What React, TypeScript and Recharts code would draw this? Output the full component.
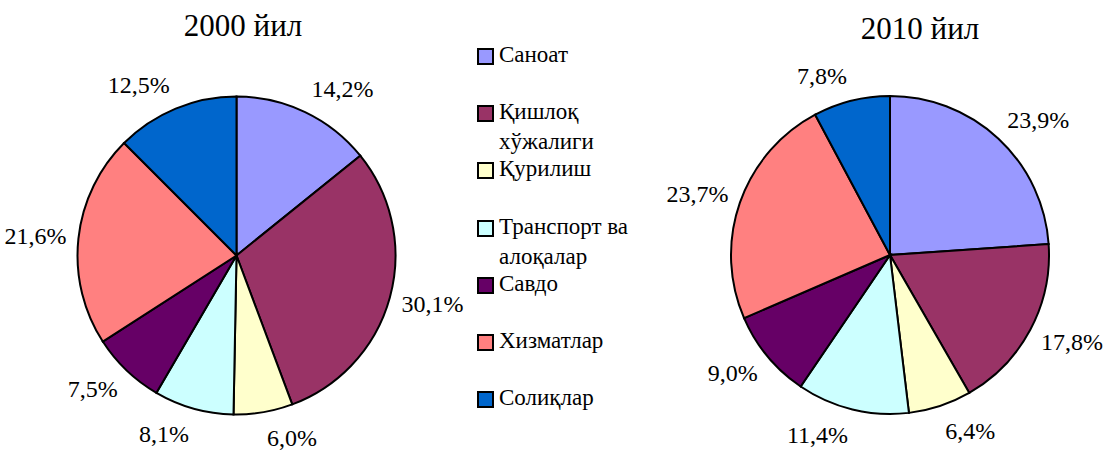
import React from 'react';
import { PieChart, Pie, Cell } from 'recharts';

const CATEGORIES = [
  'Саноат',
  'Қишлоқ хўжалиги',
  'Қурилиш',
  'Транспорт ва алоқалар',
  'Савдо',
  'Хизматлар',
  'Солиқлар',
];
const SHARE_2000 = [14.2, 30.1, 6.0, 8.1, 7.5, 21.6, 12.5];
const SHARE_2010 = [23.9, 17.8, 6.4, 11.4, 9.0, 23.7, 7.8];
const TITLES = ['2000 йил', '2010 йил'];

const COLORS = ['#9999FF', '#993366', '#FFFFCC', '#CCFFFF', '#660066', '#FF8080', '#0066CC'];
const FONT = '"Liberation Serif", "Times New Roman", serif';
const RADIAN = Math.PI / 180;

const data2000 = CATEGORIES.map((name, i) => ({ name, value: SHARE_2000[i] }));
const data2010 = CATEGORIES.map((name, i) => ({ name, value: SHARE_2010[i] }));

// excel-ish "outside end" labels: anchor on a ring, text hangs off it away from the pie
function renderLabel(props: any) {
  const { cx, cy, midAngle, outerRadius, value } = props;
  const ring = outerRadius + 10;
  const cos = Math.cos(-midAngle * RADIAN);
  const sin = Math.sin(-midAngle * RADIAN);
  const x = cx + ring * cos + (cos >= 0 ? 2 : -2);
  const y = cy + ring * sin + 16 * sin;
  return (
    <text
      x={x}
      y={y}
      textAnchor={cos >= 0 ? 'start' : 'end'}
      dominantBaseline="central"
      fill="#000"
      fontFamily={FONT}
      fontSize={24}
    >
      {value.toFixed(1).replace('.', ',') + '%'}
    </text>
  );
}

function LegendBox() {
  return (
    <div
      style={{
        position: 'absolute',
        left: 477,
        top: 0,
        width: 170,
        height: 420,
        fontFamily: FONT,
        fontSize: 23,
      }}
    >
      {CATEGORIES.map((name, i) => (
        <div
          key={name}
          style={{
            position: 'absolute',
            left: 0,
            top: 40 + i * 57.2,
            display: 'flex',
            alignItems: 'flex-start',
          }}
        >
          <span
            style={{
              display: 'inline-block',
              flex: 'none',
              width: 13,
              height: 13,
              marginTop: 8,
              marginRight: 5,
              background: COLORS[i],
              border: '2px solid #000',
            }}
          />
          <span style={{ width: 148, lineHeight: '30px', color: '#000', textAlign: 'left' }}>{name}</span>
        </div>
      ))}
    </div>
  );
}

const titleStyle: React.CSSProperties = {
  position: 'absolute',
  width: 200,
  textAlign: 'center',
  fontFamily: FONT,
  fontSize: 31,
  lineHeight: '34px',
};

export default function App() {
  return (
    <div style={{ position: 'absolute', left: 0, top: 0, width: 1106, height: 450, background: '#fff' }}>
      <PieChart width={1106} height={450} margin={{ top: 0, right: 0, bottom: 0, left: 0 }}>
        <Pie
          data={data2000}
          dataKey="value"
          nameKey="name"
          cx={236.5}
          cy={255.5}
          outerRadius={159}
          startAngle={90}
          endAngle={-270}
          stroke="#000"
          strokeWidth={2}
          label={renderLabel}
          labelLine={false}
          isAnimationActive={false}
        >
          {data2000.map((_, i) => (
            <Cell key={`a-${i}`} fill={COLORS[i]} />
          ))}
        </Pie>
        <Pie
          data={data2010}
          dataKey="value"
          nameKey="name"
          cx={890}
          cy={255}
          outerRadius={159}
          startAngle={90}
          endAngle={-270}
          stroke="#000"
          strokeWidth={2}
          label={renderLabel}
          labelLine={false}
          isAnimationActive={false}
        >
          {data2010.map((_, i) => (
            <Cell key={`b-${i}`} fill={COLORS[i]} />
          ))}
        </Pie>
      </PieChart>
      <LegendBox />
      <div style={{ ...titleStyle, left: 143, top: 9 }}>{TITLES[0]}</div>
      <div style={{ ...titleStyle, left: 820, top: 12 }}>{TITLES[1]}</div>
    </div>
  );
}
